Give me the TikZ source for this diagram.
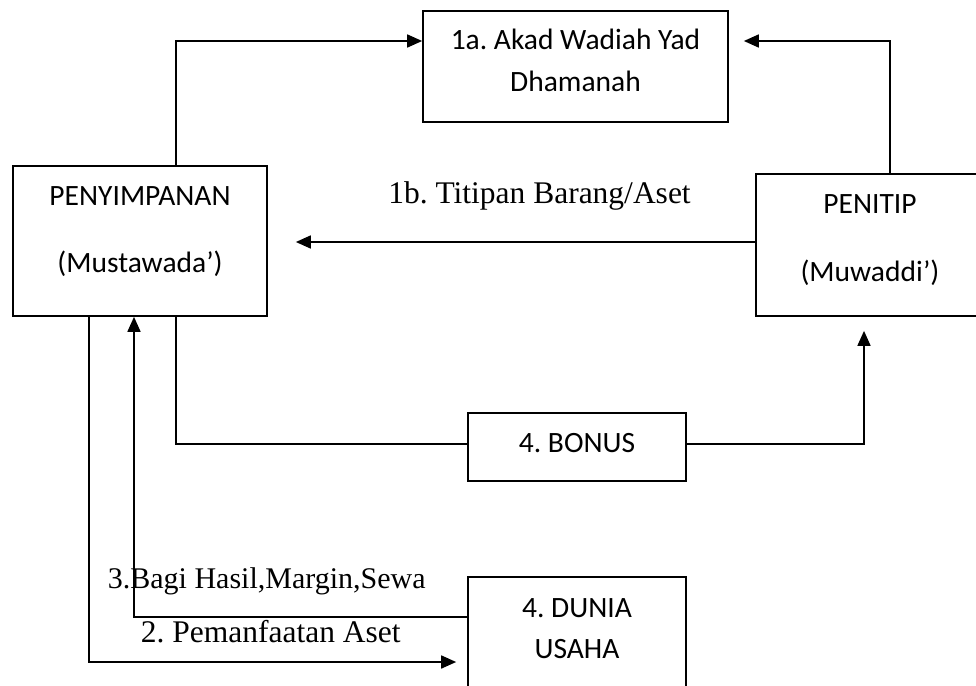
\documentclass[tikz,border=0pt]{standalone}
\usepackage{fontspec}
\setmainfont{Liberation Serif}
\newfontfamily\boxfont{Carlito}
\usetikzlibrary{arrows.meta}
\frenchspacing
\begin{document}
\begin{tikzpicture}[x=1pt,y=-1pt,line width=1.7pt,
  rect/.style={draw,line width=1.7pt,inner sep=0pt},
  btxt/.style={inner sep=0pt,anchor=base,font=\boxfont\fontsize{29.5}{35}\selectfont},
  ltxt/.style={inner sep=0pt,anchor=base,font=\fontsize{31.5}{37}\selectfont},
  arr/.style={-{Triangle[length=15pt,width=13pt]}}]
\useasboundingbox (0,0) rectangle (976,685);
% boxes
\node[rect,minimum width=305pt,minimum height=111pt] (akad) at (575.5,66.5) {};
\node[rect,minimum width=254pt,minimum height=150pt] (peny) at (140,241) {};
\node[rect,minimum width=228pt,minimum height=142pt] (penitip) at (870,245) {};
\node[rect,minimum width=218pt,minimum height=68pt] (bonus) at (577,447) {};
\node[rect,minimum width=218pt,minimum height=143pt] (dunia) at (577,648.5) {};
% box texts
\node[btxt] (akad1) at (575.5,49) {1a. Akad Wadiah Yad};
\node[btxt] (akad2) at (575.5,91) {Dhamanah};
\node[btxt] (peny1) at (140,205) {PENYIMPANAN};
\node[btxt] (peny2) at (140,272) {(Mustawada’)};
\node[btxt] (penitip1) at (870,213) {PENITIP};
\node[btxt] (penitip2) at (870,281) {(Muwaddi’)};
\node[btxt] (bonus1) at (577,452) {4. BONUS};
\node[btxt] (dunia1) at (577,617) {4. DUNIA};
\node[btxt] (dunia2) at (577,658) {USAHA};
% labels
\node[ltxt] (l1b) at (539.5,203) {1b. Titipan Barang/Aset};
\node[ltxt,anchor=base west,font=\fontsize{30}{36}\selectfont] (l3) at (107,588) {3.Bagi Hasil,Margin,Sewa};
\node[ltxt,anchor=base west] (l2) at (140,642) {2. Pemanfaatan Aset};
% helper coordinates
\coordinate (c1) at (176,41);
\coordinate (c2) at (890,41);
\coordinate (c3) at (0,242);
\coordinate (c4) at (176,444);
\coordinate (c5) at (864,0);
\coordinate (c6) at (134,617);
\coordinate (c7) at (89,662);
% connectors
\draw[arr] (peny.north -| c1) |- (akad.west |- c1);
\draw[arr,shorten >=15pt] (penitip.north -| c2) |- (akad.east |- c2);
\draw[arr,shorten >=28pt] (penitip.west |- c3) -- (peny.east |- c3);
\draw (peny.south -| c4) |- (bonus.west |- c4);
\draw[arr,shorten >=14pt] (bonus.east |- c4) -| (penitip.south -| c5);
\draw[arr] (dunia.west |- c6) -| (peny.south -| c6);
\draw[arr,shorten >=11pt] (peny.south -| c7) |- (dunia.west |- c7);
\end{tikzpicture}
\end{document}
